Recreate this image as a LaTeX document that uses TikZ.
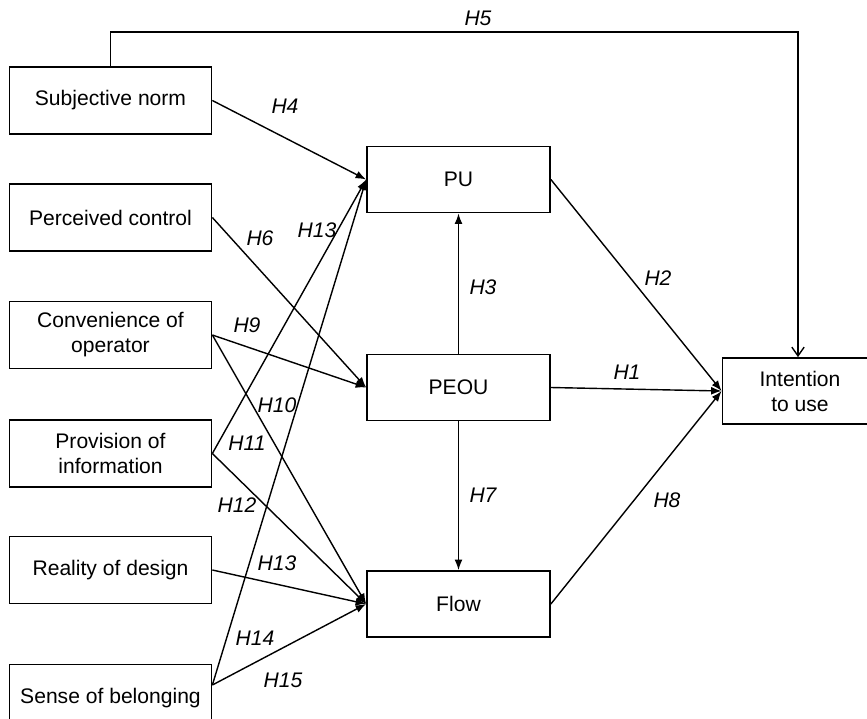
\documentclass[tikz,border=0pt]{standalone}
\usepackage{fontspec}
\setmainfont{Liberation Sans}
\usetikzlibrary{arrows.meta, positioning, calc}

\tikzset{
  construct/.style={draw, line width=1pt, minimum width=4.04cm, minimum height=1.34cm,
    align=center, inner sep=0pt, font=\fontsize{12}{14.2}\selectfont},
  core/.style={construct, minimum width=3.66cm, minimum height=1.32cm},
  link/.style={draw, line width=0.8pt, -{Latex[length=6pt, width=4.5pt]}},
  direct/.style={draw, line width=0.8pt, -{Straight Barb[length=5pt, width=7pt]}},
  hlab/.style={inner sep=0pt, font=\fontsize{12}{14}\selectfont\itshape},
}

\begin{document}
\begin{tikzpicture}[x=0.02cm, y=-0.02cm]
    \useasboundingbox (0,0) rectangle (867,718);
    \clip (0,0) rectangle (867,718);

    % Antecedents
    \node[construct] (sn) at (110.5,100.5) {Subjective norm};
    \node[construct] (pc) at (110.5,217.5) {Perceived control};
    \node[construct] (co) at (110.5,335) {Convenience of\\operator};
    \node[construct] (pi) at (110.5,453.5) {Provision of\\information};
    \node[construct] (rd) at (110.5,570) {Reality of design};
    \node[construct] (sb) at (110.5,698) {Sense of belonging};

    % Core constructs
    \node[core] (pu) at (458.5,179.5) {PU};
    \node[core] (pe) at (458.5,387.5) {PEOU};
    \node[core] (fl) at (458.5,604) {Flow};
    \node[construct, minimum width=3.1cm, minimum height=1.32cm] (it) at (800,391) {Intention\\to use};

    % Paths
    \draw[link] (sn.east) -- (pu.west);
    \draw[link] (pc.east) -- (pe.west);
    \draw[link] (co.east) -- (pe.west);
    \draw[link] (co.east) -- (fl.west);
    \draw[link] (pi.east) -- (pu.west);
    \draw[link] (pi.east) -- (fl.west);
    \draw[link] (rd.east) -- (fl.west);
    \draw[link] ([yshift=0.26cm]sb.east) -- (pu.west);
    \draw[link] ([yshift=0.26cm]sb.east) -- (fl.west);
    \draw[link] (pe.north) -- (pu.south);
    \draw[link] (pe.south) -- (fl.north);
    \draw[link] (pu.east) -- (it.west);
    \draw[link] (pe.east) -- (it.west);
    \draw[link] (fl.east) -- (it.west);

    % Direct path
    \coordinate (h5top) at (798,32);
    \draw[direct] (sn.north) -- (sn.north |- h5top) -- (h5top) -- (h5top |- it.north);

    % Hypothesis labels
    \node[hlab] (l1) at (627,372) {H1};
    \node[hlab] (l2) at (658,278) {H2};
    \node[hlab] (l3) at (483,287) {H3};
    \node[hlab] (l4) at (285,106) {H4};
    \node[hlab] (l5) at (478,18) {H5};
    \node[hlab] (l6) at (260,238) {H6};
    \node[hlab] (l7) at (483,495) {H7};
    \node[hlab] (l8) at (667,500) {H8};
    \node[hlab] (l9) at (247,325) {H9};
    \node[hlab] (l10) at (277,405) {H10};
    \node[hlab] (l11) at (247,443) {H11};
    \node[hlab] (l12) at (237,505) {H12};
    \node[hlab] (l13a) at (317,230) {H13};
    \node[hlab] (l13b) at (277,563) {H13};
    \node[hlab] (l14) at (255,638) {H14};
    \node[hlab] (l15) at (283,680) {H15};
\end{tikzpicture}
\end{document}
